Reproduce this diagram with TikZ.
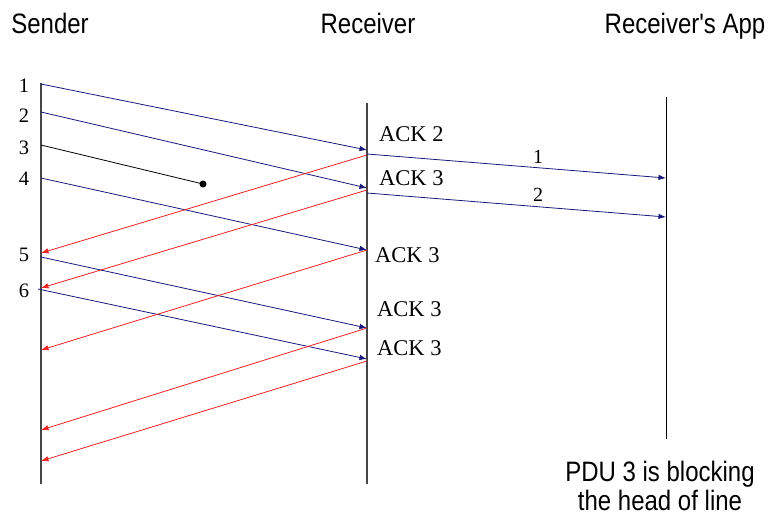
\documentclass[tikz,border=0pt]{standalone}
\usepackage{fontspec}
\setmainfont{Liberation Serif}
\newfontfamily\headfont{Liberation Sans}
\usetikzlibrary{arrows.meta}

\definecolor{pdublue}{RGB}{25,25,125}
\definecolor{ackred}{RGB}{235,35,35}
\definecolor{linegray}{RGB}{70,70,70}

% the sans captions are set a little taller than wide
\newcommand{\tallsans}[1]{\scalebox{1}[1.17]{#1}}

\begin{document}
\begin{tikzpicture}[x=1pt,y=-1pt,
  head/.style={font=\headfont\fontsize{24}{23}\selectfont, anchor=base, inner sep=0pt},
  seqnum/.style={font=\fontsize{20.5}{24}\selectfont, anchor=base, inner sep=0pt},
  appnum/.style={font=\fontsize{20}{24}\selectfont, anchor=base, inner sep=0pt},
  acklabel/.style={font=\fontsize{22.5}{26}\selectfont, anchor=base west, inner sep=0pt},
  pdu/.style={pdublue, line width=0.8pt, -{Latex[length=7.5pt,width=5.5pt]}},
  ack/.style={ackred, line width=0.8pt, -{Latex[length=7.5pt,width=5.5pt]}}]

\useasboundingbox (0,0) rectangle (769,517);

% Time lines of the three parties
\coordinate (sendtop) at (41,83);
\coordinate (sendbot) at (41,484);
\coordinate (recvtop) at (367,103);
\coordinate (recvbot) at (367,484);
\coordinate (apptop) at (666,97);
\coordinate (appbot) at (666,439);
\draw[linegray, line width=1.2pt] (sendtop) -- (sendbot);
\draw[linegray, line width=1.2pt] (recvtop) -- (recvbot);
\draw[black, line width=1pt] (apptop) -- (appbot);

\node[head] (sender) at (50,33) {\tallsans{Sender}};
\node[head] (receiver) at (368,33) {\tallsans{Receiver}};
\node[head] (app) at (685,33) {\tallsans{Receiver's App}};

% Sequence numbers on the sender side
\foreach \n/\y in {1/92, 2/122, 3/154, 4/185, 5/261, 6/297} {
  \node[seqnum] (num\n) at (24,\y) {\n};
}

% PDUs that reach the receiver
\foreach \n/\xs/\ys/\yr in {1/41/84/150, 2/41/112/188, 4/41/178/250, 5/41/257/328, 6/38/289/359} {
  \coordinate (snd\n) at (\xs,\ys);
  \coordinate (rcv\n) at (367,\yr);
  \draw[pdu] (snd\n) -- (rcv\n);
}

% PDU 3 is lost on the way
\coordinate (snd3) at (41,145);
\coordinate (lost) at (203,184);
\draw[black, line width=0.8pt] (snd3) -- (lost);
\fill[black] (lost) circle (3.5pt);

% Acknowledgements back to the sender
\foreach \a/\yr/\ys in {a/155/253, b/190/288, c/250/350, d/328/430, e/361/461} {
  \coordinate (ackr\a) at (367,\yr);
  \coordinate (acks\a) at (41,\ys);
  \draw[ack] (ackr\a) -- (acks\a);
}

\node[acklabel] (lbla) at (379,141) {ACK 2};
\node[acklabel] (lblb) at (379,185) {ACK 3};
\node[acklabel] (lblc) at (375,262) {ACK 3};
\node[acklabel] (lbld) at (377,316) {ACK 3};
\node[acklabel] (lble) at (377,355) {ACK 3};

% In-order delivery to the application
\coordinate (dlv1) at (367,154);
\coordinate (got1) at (666,178);
\coordinate (dlv2) at (367,193);
\coordinate (got2) at (666,217);
\draw[pdu] (dlv1) -- (got1);
\draw[pdu] (dlv2) -- (got2);
\node[appnum] (app1) at (538,163) {1};
\node[appnum] (app2) at (538,201) {2};

\node[head] (hol) at (660,510) {\tallsans{\begin{tabular}[b]{@{}c@{}}PDU 3 is blocking\\the head of line\end{tabular}}};

\end{tikzpicture}
\end{document}
